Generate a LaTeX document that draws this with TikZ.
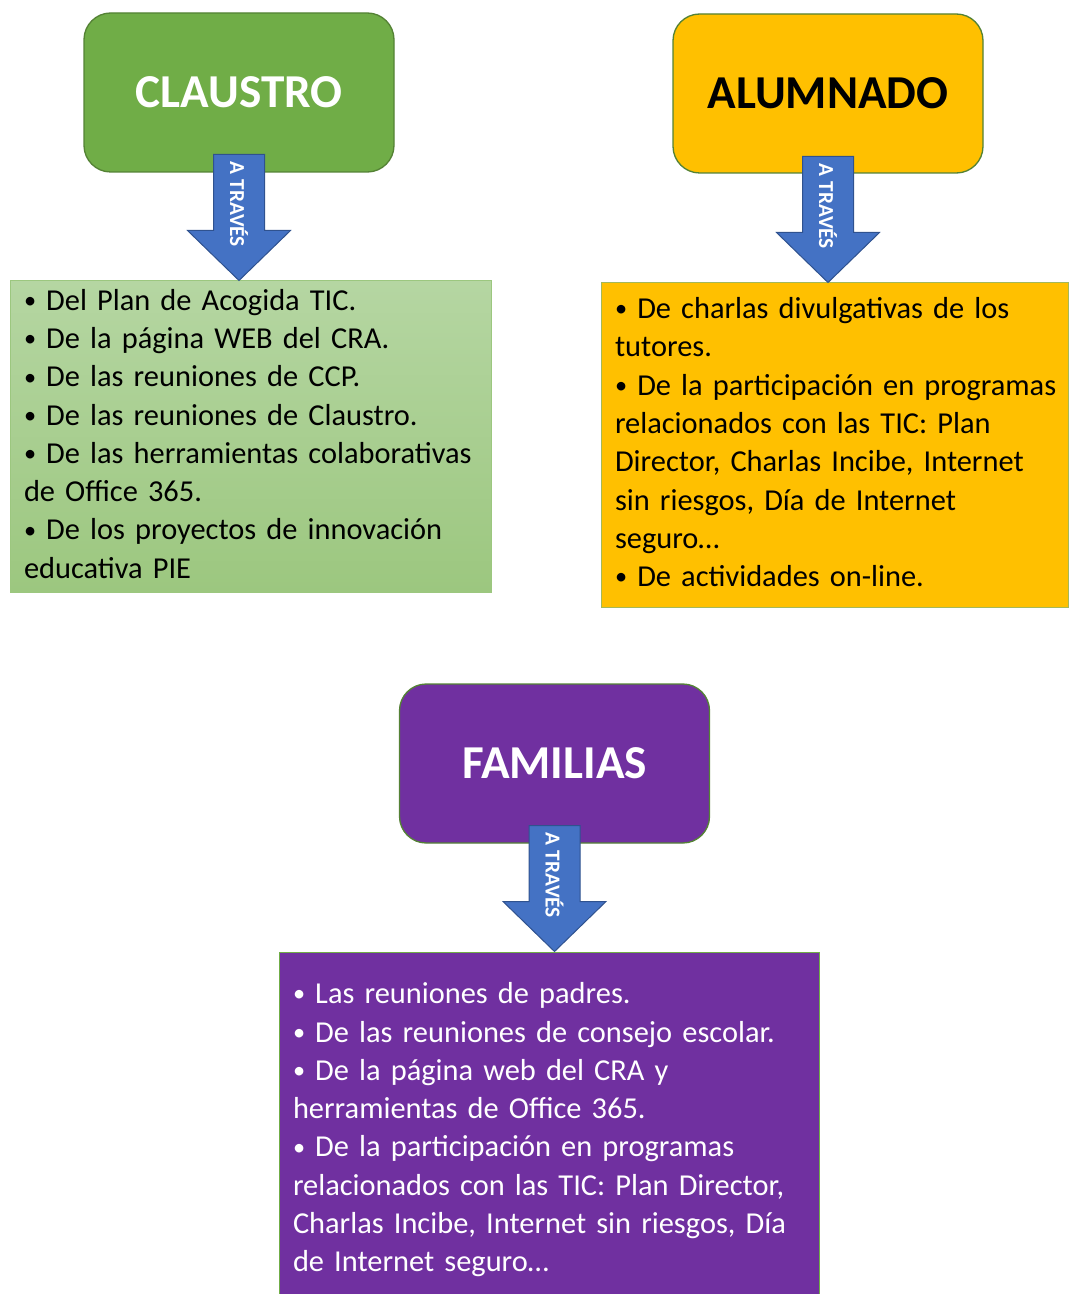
\documentclass[tikz,border=0pt]{standalone}
\usepackage{fontspec}
\setmainfont{Carlito}
\definecolor{claustrogreen}{HTML}{70AD47}
\definecolor{headedge}{HTML}{548235}
\definecolor{alumnoyellow}{HTML}{FFC000}
\definecolor{familypurple}{HTML}{7030A0}
\definecolor{viablue}{HTML}{4472C4}
\definecolor{viaedge}{HTML}{2F528F}
\definecolor{listgreentop}{HTML}{B5D6A2}
\definecolor{listgreenbot}{HTML}{9CC77F}
\definecolor{yellowedge}{HTML}{A3B85A}
\newcommand\bul{\raisebox{.12ex}{\scalebox{.8}{•}}}
\newcommand\lines[1]{\begin{tabular}{@{}l@{}}#1\end{tabular}}

\begin{document}
\begin{tikzpicture}[x=0.75pt,y=-0.75pt,
  group/.style={draw=headedge,line width=1pt,rounded corners=20pt,
    minimum width=232.5pt,minimum height=119.25pt,
    font=\fontsize{35.4}{42}\selectfont\bfseries},
  list/.style={draw,line width=0.75pt,inner xsep=10.5pt,inner ysep=0pt,
    align=left,font=\fontsize{22.8}{28.7}\selectfont},
  via/.style={fill=viablue,draw=viaedge,line width=0.75pt,line join=miter},
  vialabel/.style={text=white,inner sep=0pt,
    font=\fontsize{16}{16}\selectfont\bfseries}]
  \useasboundingbox (0,0) rectangle (1068,1294);
  \node[group,fill=claustrogreen,text=white] (claustro) at (239,92.5) {CLAUSTRO};
  \node[group,fill=alumnoyellow] (alumnado) at (828,93.5) {ALUMNADO};
  \node[group,fill=familypurple,text=white] (familias) at (554.5,763.5) {FAMILIAS};
  \node[list,draw=listgreenbot,top color=listgreentop,bottom color=listgreenbot,
    text width=339.75pt,minimum height=233.25pt] (claustro-list) at (250.5,436.5)
    {\lines{\bul\ Del Plan de Acogida TIC.\\
     \bul\ De la página WEB del CRA.\\
     \bul\ De las reuniones de CCP.\\
     \bul\ De las reuniones de Claustro.\\
     \bul\ De las herramientas colaborativas\\
     de Office 365.\\
     \bul\ De los proyectos de innovación\\
     educativa PIE}};
  \node[list,draw=yellowedge,fill=alumnoyellow,
    text width=329.25pt,minimum height=243pt] (alumnado-list) at (834.5,445)
    {\lines{\bul\ De charlas divulgativas de los\\
     tutores.\\
     \bul\ De la participación en programas\\
     relacionados con las TIC: Plan\\
     Director, Charlas Incibe, Internet\\
     sin riesgos, Día de Internet\\
     seguro…\\
     \bul\ De actividades on-line.}};
  \node[list,draw=claustrogreen,fill=familypurple,text=white,
    text width=384pt,minimum height=267pt] (familias-list) at (549,1130)
    {\lines{\bul\ Las reuniones de padres.\\
     \bul\ De las reuniones de consejo escolar.\\
     \bul\ De la página web del CRA y\\
     herramientas de Office 365.\\
     \bul\ De la participación en programas\\
     relacionados con las TIC: Plan Director,\\
     Charlas Incibe, Internet sin riesgos, Día\\
     de Internet seguro…}};
  \foreach \g in {claustro,alumnado,familias}{
    \begin{scope}[shift={(\g.south |- \g-list.north)}]
      \draw[via] (-25.5,-126) -- (25.5,-126) -- (25.5,-50) -- (51.5,-50)
        -- (0,0) -- (-51.5,-50) -- (-25.5,-50) -- cycle;
      \node[vialabel,rotate=-90] (\g-via) at (0,-76) {A TRAVÉS};
    \end{scope}
  }
\end{tikzpicture}
\end{document}
